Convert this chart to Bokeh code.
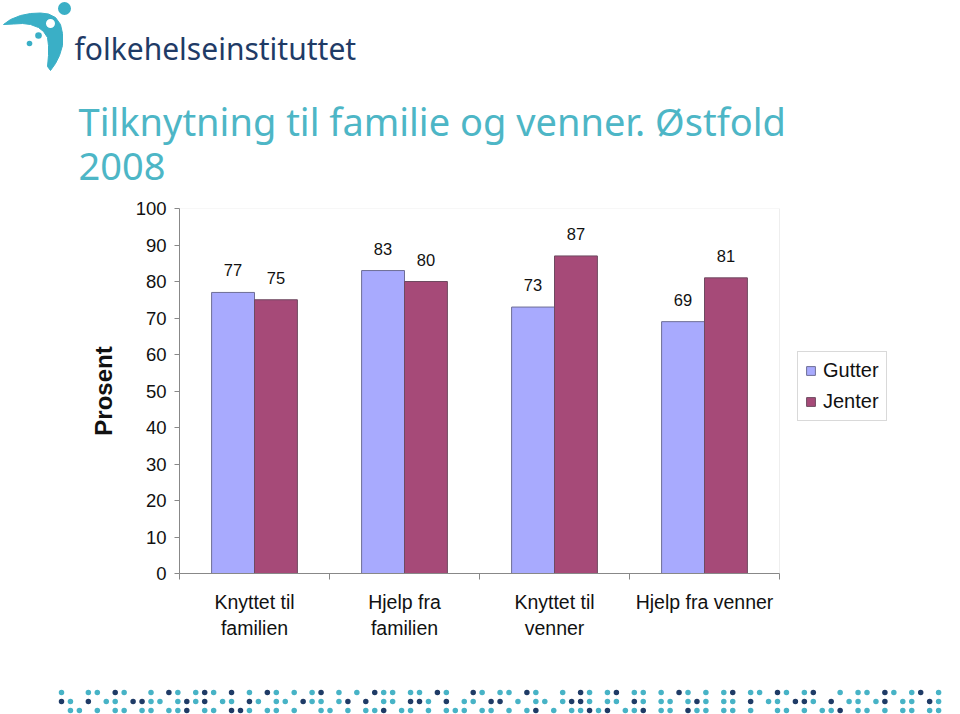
import numpy as np
from bokeh.plotting import figure
from bokeh.models import (Range1d, FixedTicker, LabelSet, ColumnDataSource, Legend, LegendItem,
                          BoxAnnotation)
from bokeh.core.properties import value
from bokeh.embed import file_html
from bokeh.resources import INLINE

# ---------------- data ----------------
categories = ["Knyttet til\nfamilien", "Hjelp fra\nfamilien", "Knyttet til\nvenner", "Hjelp fra venner"]
gutter = [77, 83, 73, 69]
jenter = [75, 80, 87, 81]
series_names = ["Gutter", "Jenter"]
y_ticks = [0, 10, 20, 30, 40, 50, 60, 70, 80, 90, 100]
title_lines = ["Tilknytning til familie og venner. Østfold", "2008"]
y_label = "Prosent"
logo_text = "folkehelseinstituttet"

# footer decoration pattern (t = teal, n = navy, . = empty)
footer_rows = [
    "t..tt.nt..t.nt.tnt.n.t.nt.t.tn.t.t.ntt.tt.nt..nt.tt.nt..t.nt.tn.tt.t.nt.t.tn.tt.nt.tn..t.tt.nt.tn.t",
    "nt.n.tt.nntt.tntn.tt.nt.tt.ntt.tn.n.tt.nnt.n.tt.nn.t.tt.tnnt.tt.nt.tt.tnt.tt.n.tt.nnt.n.tt.tn.tt.nt",
    ".tt.t.tt.tt.ttn.tt.nnt.tt.t..tt.t.ttn.tt.t.ttt.tt.t.tn.t.ttntn.ttn.tt.ntt.tt.t..tt.t.ttn.tt.t.tt.tt.",
]

FONT = "Liberation Sans"
GUT_COLOR = "#A8AAFE"
JEN_COLOR = "#A64A78"
TEAL = "#47B3C6"
NAVY = "#1F3B66"

# ---------------- header ----------------
header = figure(width=960, height=190, x_range=Range1d(0, 960), y_range=Range1d(190, 0),
                output_backend="svg", toolbar_location=None,
                min_border_left=0, min_border_right=0, min_border_top=0, min_border_bottom=0)
header.axis.visible = False
header.grid.visible = False
header.outline_line_color = None

swoosh_x = [3, 10, 20, 30, 40, 48, 55, 60, 62, 62, 59, 55, 50, 47, 48, 48, 47, 43, 38, 30, 22, 13, 3]
swoosh_y = [24, 19, 15, 13, 12.5, 13.5, 17, 24, 33, 45, 55, 63, 70, 66, 55, 45, 37, 31, 27, 24, 23, 23.5, 24]
header.patch(swoosh_x, swoosh_y, fill_color="#3AAFC6", line_color="#3AAFC6")
header.circle([50], [23], radius=5.5, fill_color="white", line_color="#3AAFC6", line_width=2)
header.circle([64], [8], radius=6.5, fill_color="#3AAFC6", line_color=None)
header.circle([38, 29], [35, 43], radius=[3.3, 2.8], fill_color="#3AAFC6", line_color=None)
header.text(x=[74], y=[48], text=[logo_text], text_font=value("Noto Sans"), text_font_size="30px",
            text_color=NAVY, text_baseline="alphabetic", text_align="left")
header.text(x=[78, 78], y=[120, 166], text=title_lines, text_font=value("Noto Sans"),
            text_font_size="38px", text_color="#4DB6C6", text_baseline="alphabetic", text_align="left")

# ---------------- main chart ----------------
n = len(categories)
idx = np.arange(n) + 0.5
offset = 0.143
bw = 0.286
x_end = n * (960 - 40 - 179) / 600.0   # frame extends past the plot box so the legend can sit there

p = figure(width=960, height=490, x_range=Range1d(0, x_end), y_range=Range1d(0, 100),
           output_backend="svg", toolbar_location=None,
           min_border_left=179, min_border_right=40, min_border_top=18, min_border_bottom=107)
p.grid.visible = False
p.outline_line_color = None
p.background_fill_color = "white"

# plot-area box (light grey top and right edges)
p.add_layout(BoxAnnotation(left=0, right=n, bottom=0, top=100, fill_alpha=0,
                           line_color="#C8C8C8", line_width=1, level="underlay"))

src_g = ColumnDataSource(dict(x=idx - offset, top=gutter, lab=[str(v) for v in gutter]))
src_j = ColumnDataSource(dict(x=idx + offset, top=jenter, lab=[str(v) for v in jenter]))
rg = p.vbar(x="x", top="top", width=bw, bottom=0, source=src_g, fill_color=GUT_COLOR, line_color="#6E6E96", line_width=1)
rj = p.vbar(x="x", top="top", width=bw, bottom=0, source=src_j, fill_color=JEN_COLOR, line_color="#6E4A60", line_width=1)

for src in (src_g, src_j):
    p.add_layout(LabelSet(x="x", y="top", text="lab", source=src, y_offset=22,
                          text_align="center", text_baseline="middle",
                          text_font=value(FONT), text_font_size="16.5px", text_color="#111111"))

xa = p.xaxis[0]
xa.bounds = (0, n)
xa.ticker = FixedTicker(ticks=list(idx), minor_ticks=list(range(n + 1)))
xa.major_label_overrides = {float(t): c for t, c in zip(idx, categories)}
xa.major_tick_line_color = None
xa.minor_tick_line_color = "#888888"
xa.minor_tick_out = 6
xa.minor_tick_in = 0
xa.axis_line_color = "#888888"
xa.major_label_text_font = FONT
xa.major_label_text_font_size = "19.5px"
xa.major_label_text_color = "#111111"
xa.major_label_standoff = 11

ya = p.yaxis[0]
ya.ticker = FixedTicker(ticks=y_ticks, minor_ticks=[])
ya.major_tick_out = 5
ya.major_tick_in = 0
ya.major_tick_line_color = "#888888"
ya.axis_line_color = "#888888"
ya.minor_tick_line_color = None
ya.major_label_text_font = FONT
ya.major_label_text_font_size = "18.5px"
ya.major_label_text_color = "#111111"
ya.major_label_standoff = 8
ya.axis_label = y_label
ya.axis_label_text_font = FONT
ya.axis_label_text_font_style = "bold"
ya.axis_label_text_font_size = "24px"
ya.axis_label_text_color = "#111111"
ya.axis_label_standoff = 16

legend = Legend(items=[LegendItem(label=series_names[0], renderers=[rg]),
                       LegendItem(label=series_names[1], renderers=[rj])],
                location=(618, 152), orientation="vertical",
                glyph_width=11, glyph_height=11, label_standoff=7, padding=7, spacing=8,
                label_height=20, margin=0,
                label_text_font=FONT, label_text_font_size="20px", label_text_color="#111111",
                border_line_color="#B4B4B4", border_line_width=1, background_fill_alpha=1)
p.add_layout(legend, "center")

# ---------------- footer ----------------
footer = figure(width=960, height=34, x_range=Range1d(0, 960), y_range=Range1d(34, 0),
                output_backend="svg", toolbar_location=None,
                min_border_left=0, min_border_right=0, min_border_top=0, min_border_bottom=0)
footer.axis.visible = False
footer.grid.visible = False
footer.outline_line_color = None
fx, fy, fc = [], [], []
for r, row in enumerate(footer_rows):
    for k, ch in enumerate(row):
        if ch == ".":
            continue
        fx.append(61 + 8.95 * k)
        fy.append(12 + 9 * r)
        fc.append(TEAL if ch == "t" else NAVY)
footer.scatter(x=fx, y=fy, size=5.5, fill_color=fc, line_color=None, marker="circle")

open("out.html", "w").write(file_html([header, p, footer], INLINE))
